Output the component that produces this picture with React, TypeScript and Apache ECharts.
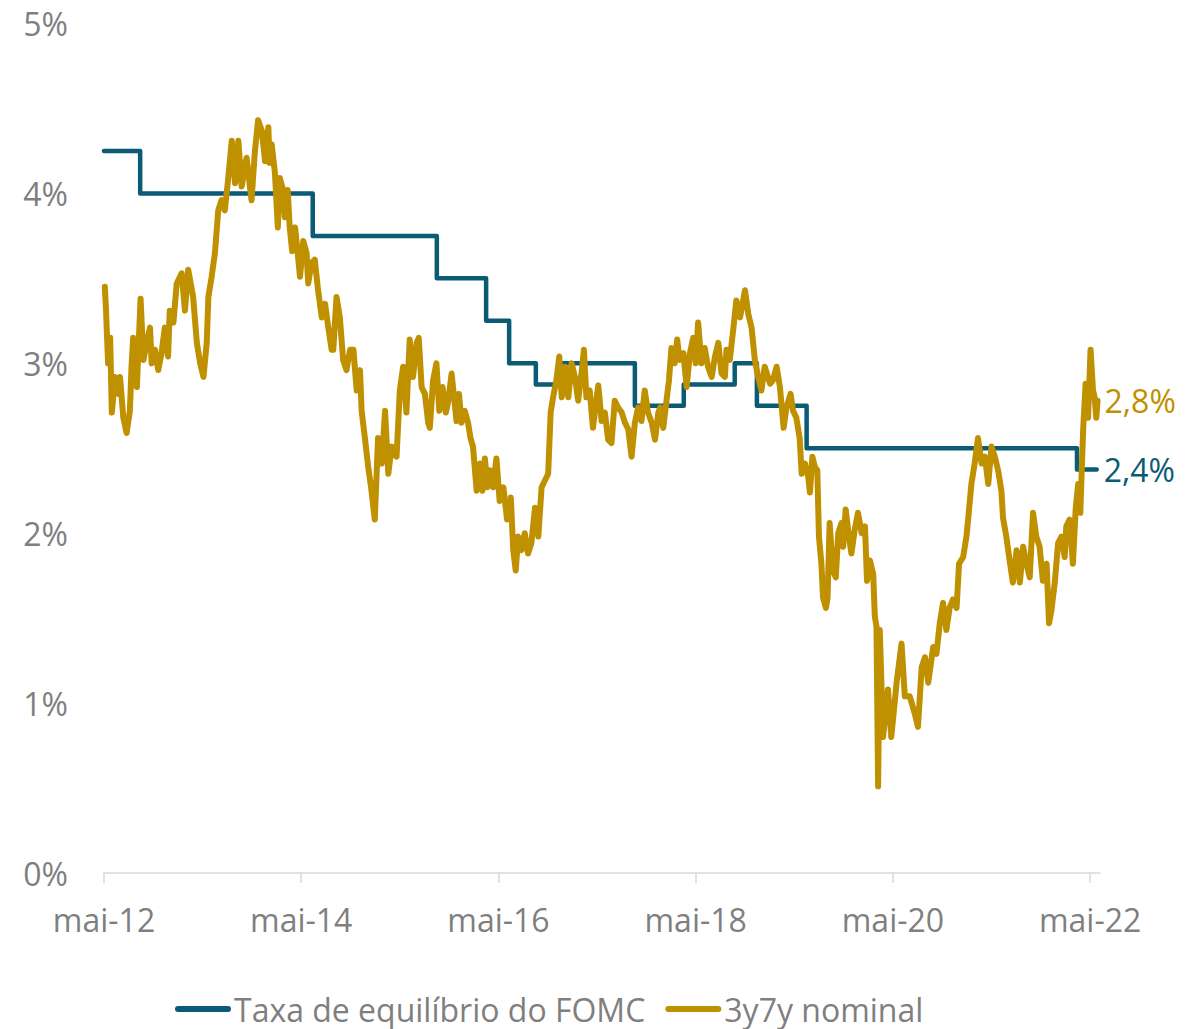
import React, { useEffect, useRef } from "react";
import * as echarts from "echarts";

// x values: months since May 2012
const nomMonths = [
  0.1, 0.25, 0.35, 0.5, 0.75, 0.95, 1.35, 1.75, 1.95, 2.35, 2.75, 3.15, 3.35, 3.55, 4.0, 4.45, 4.8, 5.2, 5.6, 5.8,
  6.2, 6.6, 7.0, 7.4, 7.8, 8.0, 8.45, 8.85, 9.45, 9.85, 10.25, 10.85, 11.3, 11.7, 12.1, 12.5, 12.7, 13.1, 13.5, 13.9,
  14.3, 14.7, 15.1, 15.55, 15.95, 16.35, 16.75, 17.35, 17.95, 18.35, 18.75, 19.2, 19.6, 20.0,
  20.15, 20.4, 20.8, 21.15, 21.4, 21.8, 22.0, 22.35, 22.6, 22.9, 23.25, 23.65, 23.85, 24.25, 24.65, 24.85, 25.25,
  25.65, 26.05, 26.5, 26.9, 27.3, 27.7, 27.9, 28.3, 28.7, 29.1, 29.5, 29.95, 30.35, 30.75, 31.15, 31.35, 31.75,
  32.15, 32.5, 32.95, 33.35, 33.8, 34.2, 34.6, 35.0, 35.6, 36.0, 36.4, 36.8, 37.2, 37.6, 38.05, 38.3, 38.65, 39.05, 39.45,
  39.65, 40.05, 40.45, 40.8, 41.2, 41.6, 41.9, 42.3, 42.6, 42.9, 43.2, 43.5, 43.9, 44.3, 44.6, 44.9, 45.35, 45.75,
  46.05, 46.35, 46.65, 46.95, 47.35, 47.75, 48.15, 48.6, 49.05, 49.5, 49.8, 50.1, 50.4, 50.8, 51.2, 51.6, 52.0,
  52.45, 52.85, 53.25, 53.65, 54.05, 54.35, 54.65, 55.05, 55.4, 55.7, 56.1, 56.5, 56.9, 57.3, 57.7, 58.1, 58.4,
  58.7, 59.1, 59.5, 59.95,
  60.15, 60.55, 60.95, 61.35, 61.75, 62.15, 62.55, 63.0, 63.4, 63.8, 64.2, 64.6, 65.0, 65.4, 65.8, 66.2, 66.65,
  67.05, 67.45, 67.7, 68.05, 68.45, 68.75, 69.05, 69.45, 69.75, 70.05, 70.5, 70.9, 71.3, 71.7, 72.0, 72.3, 72.7,
  73.1, 73.5, 73.95, 74.35, 74.75, 75.15, 75.55, 75.75, 76.15, 76.55, 76.95, 77.4, 77.7, 78.0, 78.4, 78.8, 79.2,
  79.6, 80.0, 80.4,
  81.05, 81.4, 81.85, 82.25, 82.7, 83.05, 83.55, 83.85, 84.25, 84.65, 84.9, 85.3, 85.7, 85.9, 86.2, 86.5, 86.8,
  87.0, 87.3, 87.5, 87.85, 88.05, 88.3, 88.7, 89.05, 89.35, 89.75, 89.95, 90.25, 90.55, 90.95, 91.35, 91.75, 92.2,
  92.6, 92.85, 93.2, 93.6, 93.8, 94.0, 94.2, 94.4, 94.8, 95.4, 95.8, 96.45, 97.05, 97.45, 98.05, 98.65, 99.05,
  99.5, 99.9, 100.3, 100.9, 101.3, 101.7, 102.1, 102.5, 102.9, 103.3, 103.75, 104.05, 104.55, 104.95, 105.15,
  105.55, 105.95, 106.35, 106.8, 107.2, 107.6, 108.0, 108.4, 108.8, 109.2, 109.4, 109.8, 110.2, 110.6, 111.05,
  111.45, 111.85, 112.25, 112.65, 113.05, 113.45, 113.85, 114.25, 114.7, 115.0, 115.3, 115.7, 116.1, 116.5, 116.9,
  117.1, 117.5, 117.9, 118.25, 118.55, 118.8, 119.15, 119.45, 119.75, 120.05, 120.35, 120.55, 120.75, 120.9,
];

const nomValues = [
  3.45, 3.31, 3.18, 3.0, 3.15, 2.71, 2.92, 2.82, 2.92, 2.68, 2.59, 2.72, 2.98, 3.15, 2.86, 3.38, 3.02, 3.12, 3.21, 3.0,
  3.08, 2.96, 3.06, 3.21, 3.04, 3.31, 3.24, 3.47, 3.53, 3.31, 3.55, 3.39, 3.12, 3.0, 2.92, 3.12, 3.39, 3.51, 3.65, 3.9,
  3.96, 3.9, 4.08, 4.31, 4.06, 4.31, 4.04, 4.21, 3.96, 4.24, 4.43, 4.37, 4.19, 4.39,
  4.18, 4.29, 4.12, 3.8, 4.09, 4.02, 3.86, 4.02, 3.8, 3.66, 3.8, 3.61, 3.51, 3.72, 3.65, 3.47, 3.59,
  3.61, 3.43, 3.27, 3.35, 3.21, 3.08, 3.08, 3.39, 3.27, 3.02, 2.96, 3.08, 3.08, 2.84, 2.96, 2.72, 2.56,
  2.39, 2.27, 2.08, 2.56, 2.41, 2.72, 2.35, 2.51, 2.45, 2.84, 2.98, 2.71, 3.14, 2.92, 3.12, 3.15, 2.86, 2.82, 2.65,
  2.62, 2.9, 3.0, 2.72, 2.86, 2.71, 2.78, 2.94, 2.8, 2.66, 2.82, 2.65, 2.72, 2.65, 2.56, 2.51, 2.25, 2.41,
  2.25, 2.44, 2.27, 2.37, 2.27, 2.44, 2.19, 2.27, 2.08, 2.21, 1.9, 1.78, 1.98, 1.9, 2.0, 1.88, 1.94,
  2.15, 1.98, 2.27, 2.31, 2.35, 2.71, 2.8, 2.9, 3.04, 2.8, 2.98, 2.8, 3.0, 2.92, 2.78, 2.94, 3.08,
  2.8, 2.84, 2.62, 2.8,
  2.87, 2.66, 2.71, 2.55, 2.53, 2.78, 2.74, 2.71, 2.65, 2.61, 2.45, 2.65, 2.74, 2.66, 2.84, 2.71, 2.65,
  2.55, 2.71, 2.74, 2.62, 2.78, 2.9, 3.09, 3.0, 3.14, 3.02, 3.06, 2.86, 3.06, 3.15, 3.0, 3.24, 3.0,
  3.09, 2.98, 2.92, 3.04, 3.12, 2.94, 2.92, 3.08, 3.02, 3.19, 3.37, 3.27, 3.35, 3.43, 3.29, 3.21, 3.02,
  2.92, 2.84, 2.98,
  2.88, 2.9, 2.98, 2.86, 2.62, 2.74, 2.82, 2.72, 2.68, 2.56, 2.35, 2.41, 2.33, 2.24, 2.45, 2.39, 2.37,
  1.98, 1.82, 1.62, 1.56, 1.62, 2.06, 1.78, 1.74, 2.0, 2.06, 1.92, 2.14, 2.02, 1.88, 2.02, 2.12, 2.0,
  2.04, 1.72, 1.84, 1.76, 1.51, 1.45, 0.51, 1.43, 0.8, 1.08, 0.8, 1.12, 1.35, 1.04, 1.04, 0.94, 0.86,
  1.21, 1.27, 1.12, 1.33, 1.29, 1.47, 1.59, 1.43, 1.56, 1.61, 1.56, 1.82, 1.86, 1.98, 2.08,
  2.29, 2.41, 2.56, 2.41, 2.45, 2.29, 2.51, 2.45, 2.37, 2.25, 2.09, 1.98, 1.84, 1.71, 1.9,
  1.71, 1.92, 1.82, 1.74, 2.12, 1.98, 1.92, 1.72, 1.82, 1.47, 1.55, 1.71, 1.94, 1.98, 1.86,
  2.04, 2.08, 1.82, 2.15, 2.29, 2.12, 2.61, 2.88, 2.68, 3.08, 2.84, 2.8, 2.68, 2.78,
];

const fomcMonths = [0, 4.4, 25.4, 40.5, 46.5, 49.3, 52.55, 55.5, 64.6, 70.55, 76.75, 79.45, 85.5, 118.4, 120.8];
const fomcValues = [4.25, 4.0, 3.75, 3.5, 3.25, 3.0, 2.875, 3.0, 2.75, 2.875, 3.0, 2.75, 2.5, 2.375, 2.375];

const seriesNames = ["Taxa de equilíbrio do FOMC", "3y7y nominal"];
const tickMonthLabels: Record<number, string> = {
  0: "mai-12",
  24: "mai-14",
  48: "mai-16",
  72: "mai-18",
  96: "mai-20",
  120: "mai-22",
};

const BLUE = "#0b5b75";
const GOLD = "#bf9000";
const GREY = "#7f7f7f";
const FONT = "'Open Sans', 'Noto Sans', sans-serif";

const fmtPct = (v: number) => v.toFixed(1).replace(".", ",") + "%";

export default function App() {
  const ref = useRef<HTMLDivElement>(null);
  useEffect(() => {
    if (!ref.current) return;
    const chart = echarts.init(ref.current, null, { renderer: "svg" });
    const fomcData = fomcMonths.map((m, i) => [m, fomcValues[i]]);
    const nomData = nomMonths.map((m, i) => [m, nomValues[i]]);
    const legendIcon = "path://M3,0 L53,0 A3,3 0 0 1 53,6 L3,6 A3,3 0 0 1 3,0 Z";
    chart.setOption({
      animation: false,
      backgroundColor: "#ffffff",
      textStyle: { fontFamily: FONT },
      grid: { left: 104, right: 104, top: 23.5, bottom: 156, containLabel: false },
      xAxis: {
        type: "value",
        min: 0,
        max: 121.2,
        interval: 24,
        axisLine: { show: true, lineStyle: { color: "#d9d9d9", width: 1.5 } },
        axisTick: { show: true, length: 10, lineStyle: { color: "#d9d9d9", width: 1.5 } },
        splitLine: { show: false },
        axisLabel: {
          color: GREY,
          fontSize: 32,
          fontFamily: FONT,
          margin: 30,
          showMaxLabel: false,
          formatter: (v: number) => tickMonthLabels[Math.round(v)] ?? "",
        },
      },
      yAxis: {
        type: "value",
        min: 0,
        max: 5,
        interval: 1,
        axisLine: { show: false },
        axisTick: { show: false },
        splitLine: { show: false },
        axisLabel: { color: GREY, fontSize: 32, fontFamily: FONT, margin: 36, formatter: "{value}%" },
      },
      legend: {
        left: 170,
        top: 988,
        itemWidth: 56,
        itemHeight: 6,
        itemGap: 20,
        textStyle: { color: GREY, fontSize: 32, fontFamily: FONT, padding: [0, 0, 0, -2] },
        data: [
          { name: seriesNames[0], icon: legendIcon, itemStyle: { color: BLUE } },
          { name: seriesNames[1], icon: legendIcon, itemStyle: { color: GOLD } },
        ],
      },
      series: [
        {
          name: seriesNames[0],
          type: "line",
          step: "end",
          data: fomcData,
          showSymbol: false,
          symbol: "none",
          color: BLUE,
          lineStyle: { color: BLUE, width: 4.5, cap: "round", join: "round" },
          endLabel: {
            show: true,
            distance: 7,
            color: BLUE,
            fontSize: 32,
            fontFamily: FONT,
            formatter: (p: any) => fmtPct(p.value[1]),
          },
          z: 2,
        },
        {
          name: seriesNames[1],
          type: "line",
          data: nomData,
          showSymbol: false,
          symbol: "none",
          color: GOLD,
          lineStyle: { color: GOLD, width: 6, cap: "round", join: "round" },
          endLabel: {
            show: true,
            distance: 7,
            color: GOLD,
            fontSize: 32,
            fontFamily: FONT,
            formatter: (p: any) => fmtPct(p.value[1]),
          },
          z: 3,
        },
      ],
    });
    return () => chart.dispose();
  }, []);
  return (
    <div
      ref={ref}
      style={{ position: "absolute", left: 0, top: 0, width: 1204, height: 1029, background: "#fff" }}
    />
  );
}
